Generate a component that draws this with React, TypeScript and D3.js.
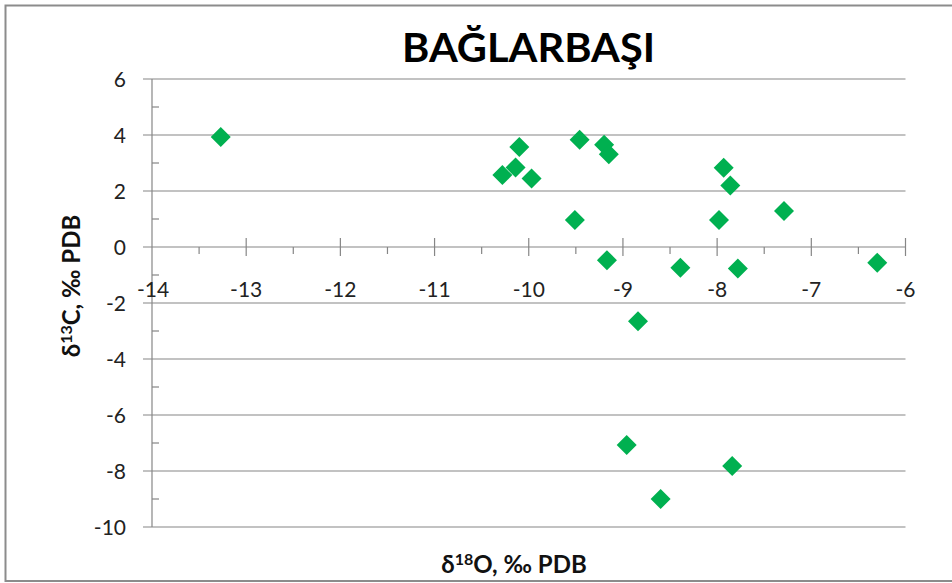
import React from "react";
import * as d3 from "d3";

// δ18O / δ13C measurements (‰ PDB)
const d18O = [
  -13.27, -10.28, -10.14, -10.1, -9.97, -9.51, -9.46, -9.2, -9.15, -9.17, -8.84,
  -8.96, -8.6, -8.39, -7.98, -7.93, -7.86, -7.78, -7.84, -7.29, -6.3,
];
const d13C = [
  3.93, 2.57, 2.84, 3.57, 2.45, 0.96, 3.83, 3.65, 3.31, -0.47, -2.65, -7.07, -9.0,
  -0.74, 0.96, 2.83, 2.2, -0.77, -7.82, 1.29, -0.56,
];
const xTicks = [-14, -13, -12, -11, -10, -9, -8, -7, -6];
const yTicks = [6, 4, 2, 0, -2, -4, -6, -8, -10];

const W = 952;
const H = 583;
const FONT = "Lato, 'Open Sans', sans-serif";
const AXIS = "#868686";

export default function App() {
  const x = d3.scaleLinear().domain([-14, -6]).range([152, 905.5]);
  const y = d3.scaleLinear().domain([-10, 6]).range([527, 79]);
  const minorX = d3.range(-13.5, -6, 1);
  const minorY = d3.range(-9, 6, 2);
  // square marker turned 45° to make a diamond
  const marker = d3.symbol().type(d3.symbolSquare).size(200)();
  const [x0, x1] = x.range();

  return (
    <svg
      width={W}
      height={H}
      style={{ position: "absolute", left: 0, top: 0, background: "#fff" }}
    >
      {/* outer frame */}
      <path d={`M${W + 5},5.5 H5.5 V581 H${W + 5}`} fill="none" stroke="#8c8c8c" strokeWidth={2} />

      <text
        x={528.5}
        y={62}
        textAnchor="middle"
        fontFamily={FONT}
        fontWeight="bold"
        fontSize={40}
        textLength={253}
        lengthAdjust="spacingAndGlyphs"
      >
        BAĞLARBAŞI
      </text>

      {/* horizontal gridlines */}
      {yTicks.map((t) => (
        <line key={`g${t}`} x1={143} x2={x1} y1={y(t)} y2={y(t)} stroke={AXIS} strokeWidth={1.2} />
      ))}
      {/* y axis */}
      <line x1={x0} x2={x0} y1={y(6)} y2={y(-10)} stroke={AXIS} strokeWidth={1.2} />
      {minorY.map((t) => (
        <line key={`my${t}`} x1={x0} x2={x0 + 7} y1={y(t)} y2={y(t)} stroke={AXIS} strokeWidth={1.2} />
      ))}
      {/* x axis ticks on the zero line */}
      {xTicks.slice(1).map((t) => (
        <line key={`xt${t}`} x1={x(t)} x2={x(t)} y1={y(0) - 9} y2={y(0) + 9} stroke={AXIS} strokeWidth={1.2} />
      ))}
      {minorX.map((t) => (
        <line key={`mx${t}`} x1={x(t)} x2={x(t)} y1={y(0)} y2={y(0) + 7} stroke={AXIS} strokeWidth={1.2} />
      ))}

      {/* tick labels */}
      {yTicks.map((t) => (
        <text
          key={`yl${t}`}
          x={126}
          y={y(t) + 8}
          textAnchor="end"
          fontFamily={FONT}
          fontSize={21}
          fill="#222"
        >
          {t}
        </text>
      ))}
      {xTicks.map((t) => (
        <text
          key={`xl${t}`}
          x={x(t) + (t === -14 ? 1 : 0)}
          y={297}
          textAnchor="middle"
          fontFamily={FONT}
          fontSize={21}
          fill="#222"
        >
          {t}
        </text>
      ))}

      {/* axis titles */}
      <text x={514} y={573} textAnchor="middle" fontFamily={FONT} fontWeight="bold" fontSize={24} fill="#111">
        δ<tspan fontSize={16} dy={-8}>18</tspan>
        <tspan dy={8}>O, ‰ PDB</tspan>
      </text>
      <text
        transform="translate(80,286) rotate(-90)"
        textAnchor="middle"
        fontFamily={FONT}
        fontWeight="bold"
        fontSize={24}
        fill="#111"
      >
        δ<tspan fontSize={16} dy={-8}>13</tspan>
        <tspan dy={8}>C, ‰ PDB</tspan>
      </text>

      {/* data points */}
      {d18O.map((v, i) => (
        <path
          key={i}
          d={marker}
          transform={`translate(${x(v)},${y(d13C[i])}) rotate(45)`}
          fill="#00b050"
        />
      ))}
    </svg>
  );
}
